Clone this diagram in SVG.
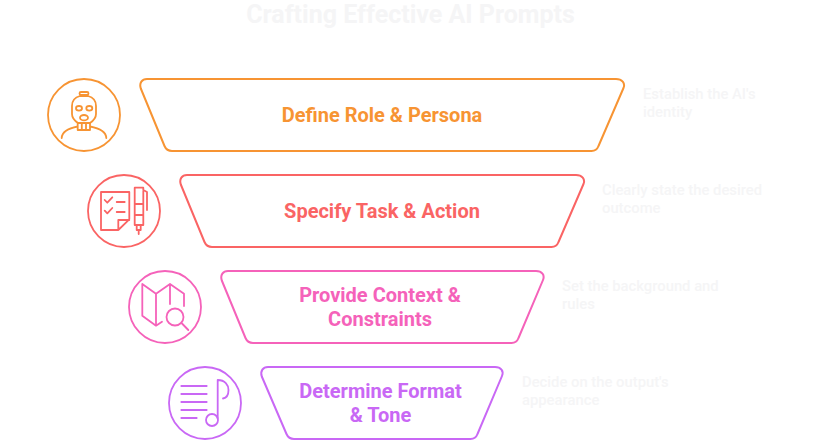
<svg xmlns="http://www.w3.org/2000/svg" width="821" height="445" viewBox="0 0 821 445">
<style>
text{font-family:Roboto,"Liberation Sans",sans-serif}
.title{font-size:25px;font-weight:700;fill:#f5f5f6;text-anchor:middle}
.label{font-size:20px;font-weight:700;text-anchor:middle}
.desc{font-size:14.800px;font-weight:500;fill:#f5f5f6}
.s{fill:none;stroke-width:1.800;stroke-linecap:round;stroke-linejoin:round}
.t{fill:none;stroke-width:2;stroke-linejoin:round}
.o{stroke:#f79433}.r{stroke:#fa6464}.p{stroke:#f562ba}.v{stroke:#c968f5}
</style>
<rect width="821" height="445" fill="#fff"/>
<text class="title" x="410.500" y="22.500">Crafting Effective AI Prompts</text>
<g id="step-1">
<circle class="s o" cx="84" cy="115" r="36"/>
<path class="s o" d="M81 92H87Q88.500 92 88.500 93.500T87 95H81Q79.500 95 79.500 93.500T81 92ZM80 96H88Q96 98 96 106V114Q96 119 90 123H78Q72 119 72 114V106Q72 98 80 96Z"/>
<ellipse class="s o" cx="79" cy="108.300" rx="3" ry="2.300"/>
<ellipse class="s o" cx="89.300" cy="108.300" rx="3" ry="2.300"/>
<ellipse class="s o" cx="84" cy="117.700" rx="4" ry="2.700"/>
<path class="s o" d="M77.700 123V130H90V123M81.800 124V130M86 124V130M77.700 126.500C70 128 62 131 61.700 138M90 126.500C98 128 106 131 106.300 138"/>
<path class="t o" d="M140.800 88.500C139 83 142 79 147 79H616C622 79 625.500 83 623.500 88L598.500 146C597 150 594.500 151 591.500 151H172C168.500 151 166 149.500 164.500 146Z"/>
<text class="label" x="382" y="122" fill="#f79433">Define Role &amp; Persona</text>
<text class="desc" x="643" y="98.500">Establish the AI's</text>
<text class="desc" x="643" y="117">identity</text>
</g>
<g id="step-2">
<circle class="s r" cx="124" cy="211" r="36"/>
<path class="s r" d="M118.300 230H101V192H129.300V219.300ZM118.300 230V220H129.300M104.700 200L107.300 202.700L112.300 197.300M104.700 210.700L107.300 213.300L112.300 208M116.700 202H124.700M116.700 212H124.700"/>
<path class="s r" d="M134.700 187.700H143.300V225H134.700ZM134.700 204H143.300M134.700 215H143.300M143.300 190L147 192V210M136.700 225V230H140.700V225M138.700 230V234"/>
<path class="t r" d="M180.800 184.500C179 179 182 175 187 175H576C582 175 585.500 179 583.500 184L558.500 242C557 246 554.500 247 551.500 247H212C208.500 247 206 245.500 204.500 242Z"/>
<text class="label" x="382" y="218" fill="#fa6464">Specify Task &amp; Action</text>
<text class="desc" x="602" y="195">Clearly state the desired</text>
<text class="desc" x="602" y="213">outcome</text>
</g>
<g id="step-3">
<circle class="s p" cx="165" cy="307" r="36"/>
<path class="s p" d="M162 321.700L156 325.700L142.300 315.700V284L156 293.700L170 284L184 293.700V306M156 293.700V325.700M170 284V304"/>
<circle class="s p" cx="175" cy="317" r="8.500"/>
<path class="s p" d="M182 323.500L188.300 330"/>
<path class="t p" d="M221.800 280.500C220 275 223 271 228 271H536C542 271 545 275 543 280L518.500 338C517 342 514.500 343 511.500 343H253C249.500 343 247 341.500 245.500 338Z"/>
<text class="label" x="380" y="302" fill="#f562ba">Provide Context &amp;</text>
<text class="label" x="380" y="326" fill="#f562ba">Constraints</text>
<text class="desc" x="562" y="291">Set the background and</text>
<text class="desc" x="562" y="309">rules</text>
</g>
<g id="step-4">
<circle class="s v" cx="205" cy="403" r="36"/>
<path class="s v" d="M181.300 386H206.700M181.300 394H206.700M181.300 402H206.700M181.300 410H206.700M181.300 418H196.700M217.700 418.500V380C225 380 228.500 385 228.500 390C228.500 395 226 398 223 398.500"/>
<circle class="s v" cx="212" cy="420" r="6"/>
<path class="t v" d="M261.800 376.500C260 371 263 367 268 367H495C501 367 504 371 502 376L477.500 434C476 438 473.500 439 470.500 439H294C290.500 439 288 437.500 286.500 434Z"/>
<text class="label" x="380.500" y="398" fill="#c968f5">Determine Format</text>
<text class="label" x="380.500" y="422" fill="#c968f5">&amp; Tone</text>
<text class="desc" x="522" y="387">Decide on the output's</text>
<text class="desc" x="522" y="405">appearance</text>
</g>
</svg>
